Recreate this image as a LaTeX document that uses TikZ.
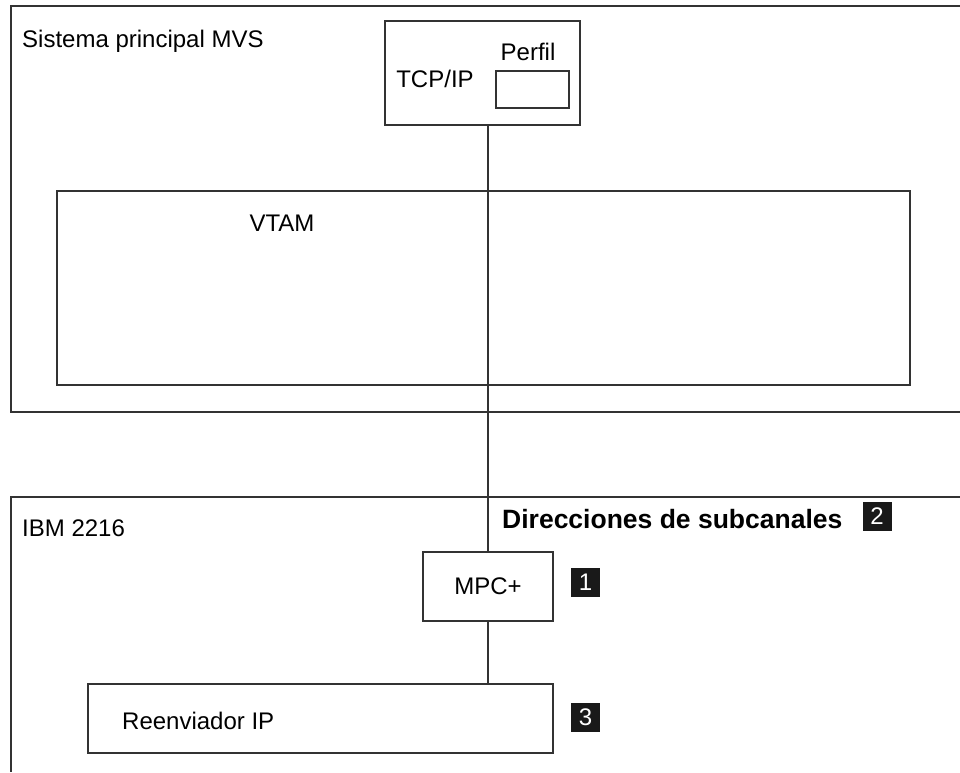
\documentclass[tikz,border=0pt]{standalone}
\usepackage{fontspec}
\setmainfont{Liberation Sans}
\begin{document}
\begin{tikzpicture}[x=1pt,y=-1pt,
  ln/.style={line width=1.3pt,draw=black!80},
  box/.style={ln,rectangle,inner sep=0pt},
  lbl/.style={font=\fontsize{24}{28}\selectfont,inner sep=0pt},
  callout/.style={fill=black!90,text=white,inner sep=0pt,minimum width=29pt,minimum height=29pt,font=\fontsize{24}{26}\selectfont}]
\useasboundingbox (0,0) rectangle (960,772);
% outer MVS frame (open right)
\draw[ln] (960,6) -- (11,6) -- (11,412) -- (960,412);
\node[lbl,anchor=base west] (mvs) at (22,47) {Sistema principal MVS};
% TCP/IP box
\node[box,minimum width=195pt,minimum height=104pt] (tcp) at (482.5,73) {};
\node[lbl,anchor=base] (tcplbl) at (435,87) {TCP/IP};
\node[lbl,anchor=base] (perfil) at (528,60) {Perfil};
\node[box,minimum width=73pt,minimum height=37pt] (prof) at (532.5,89.5) {};
% VTAM box
\node[box,minimum width=853pt,minimum height=194pt] (vtam) at (483.5,288) {};
\node[lbl,anchor=base] (vtamlbl) at (282,231) {VTAM};
% IBM 2216 frame (open right and bottom)
\draw[ln] (960,497) -- (11,497) -- (11,772);
\node[lbl,anchor=base west] (ibm) at (22,536) {IBM 2216};
\node[lbl,anchor=base west,font=\fontsize{26.5}{30}\selectfont\bfseries] (dir) at (502,528) {Direcciones de subcanales};
\node[callout] (c2) at (877,516) {2};
% MPC+
\node[box,minimum width=130pt,minimum height=69pt] (mpc) at (488,586.5) {};
\node[lbl] (mpclbl) at (mpc) {MPC+};
\node[callout] (c1) at (585.5,582) {1};
% Reenviador
\node[box,minimum width=465pt,minimum height=69pt] (reen) at (320.5,718.5) {};
\node[lbl,anchor=base west] (reenlbl) at (122,729) {Reenviador IP};
\node[callout] (c3) at (585.5,717) {3};
% connectors
\coordinate (tcpb) at (488,125.7);
\coordinate (mpct) at (488,551.3);
\coordinate (mpcb) at (488,621.7);
\coordinate (reent) at (488,683.3);
\draw[ln] (tcpb) -- (mpct);
\draw[ln] (mpcb) -- (reent);
\end{tikzpicture}
\end{document}
